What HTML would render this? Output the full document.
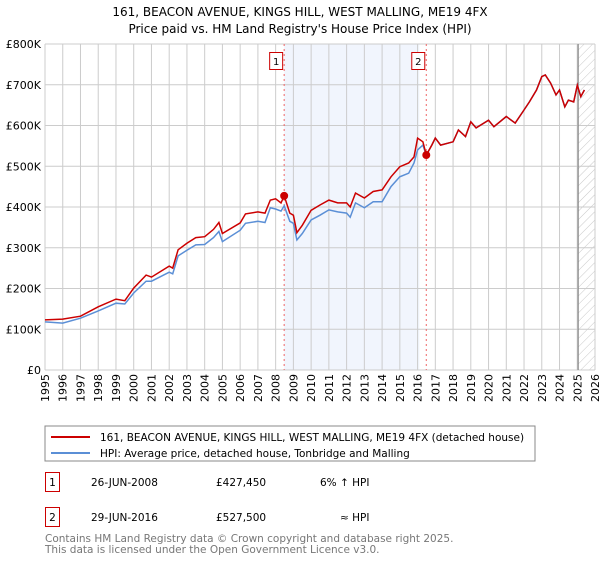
<!DOCTYPE html>
<html><head><meta charset="utf-8"><style>
body{margin:0;background:#fff;font-family:"Liberation Sans","DejaVu Sans",sans-serif;}
svg text{font-family:"DejaVu Sans","Liberation Sans",sans-serif;}
</style></head><body>
<svg id="c" width="600" height="560" xmlns="http://www.w3.org/2000/svg">
<defs><pattern id="hatch" width="6" height="6" patternUnits="userSpaceOnUse" patternTransform="rotate(45)"><line x1="0" y1="0" x2="0" y2="6" stroke="#bbb" stroke-width="0.8"/></pattern></defs>
<text x="300" y="16" text-anchor="middle" font-size="12">161, BEACON AVENUE, KINGS HILL, WEST MALLING, ME19 4FX</text>
<text x="300" y="33" text-anchor="middle" font-size="12">Price paid vs. HM Land Registry's House Price Index (HPI)</text>
<g id="plot"></g>
<rect x="45" y="426" width="490" height="35" fill="#fff" stroke="#888"/>
<line x1="51" y1="437" x2="90" y2="437" stroke="#cc0000" stroke-width="2"/>
<text x="100" y="441" font-size="10.5">161, BEACON AVENUE, KINGS HILL, WEST MALLING, ME19 4FX (detached house)</text>
<line x1="51" y1="453" x2="90" y2="453" stroke="#5b8fd6" stroke-width="2"/>
<text x="100" y="457" font-size="10.5">HPI: Average price, detached house, Tonbridge and Malling</text>
<g font-size="10.5">
<rect x="45.5" y="472.5" width="14" height="19" fill="#fff" stroke="#cc0000"/><text x="52.5" y="486" text-anchor="middle">1</text>
<text x="91" y="486">26-JUN-2008</text><text x="216" y="486">£427,450</text><text x="320" y="486">6% ↑ HPI</text></g>
<g font-size="10.5">
<rect x="45.5" y="507.5" width="14" height="19" fill="#fff" stroke="#cc0000"/><text x="52.5" y="521" text-anchor="middle">2</text>
<text x="91" y="521">29-JUN-2016</text><text x="216" y="521">£527,500</text><text x="340" y="521">≈ HPI</text></g>
<text x="45" y="542" font-size="10.5" fill="#777">Contains HM Land Registry data © Crown copyright and database right 2025.</text>
<text x="45" y="553" font-size="10.5" fill="#777">This data is licensed under the Open Government Licence v3.0.</text>
</svg>
<script>
const hpiYears=[1995,1996,1997,1998,1999,1999.5,2000,2000.7,2001,2002,2002.2,2002.5,2003,2003.5,2004,2004.5,2004.8,2005,2006,2006.3,2007,2007.4,2007.7,2008,2008.3,2008.48,2008.8,2009,2009.2,2009.5,2010,2010.5,2011,2011.5,2012,2012.2,2012.5,2013,2013.5,2014,2014.5,2015,2015.5,2015.8,2016,2016.3,2016.49,2016.8,2017,2017.3,2018,2018.3,2018.7,2019,2019.3,2020,2020.3,2021,2021.5,2022,2022.3,2022.7,2023,2023.2,2023.5,2023.8,2024,2024.3,2024.5,2024.8,2025,2025.2,2025.4];
const hpiValues=[118,115,127,145,164,162,189,218,218,240,236,280,294,307,308,325,340,315,343,360,365,362,398,395,390,403,365,360,319,335,368,380,393,388,385,375,410,398,413,413,450,474,483,508,540,552,527,552,569,552,560,589,573,609,594,613,597,622,606,638,658,687,720,724,704,675,687,646,662,658,699,671,687];
const redYears=[1995,1996,1997,1998,1999,1999.5,2000,2000.7,2001,2002,2002.2,2002.5,2003,2003.5,2004,2004.5,2004.8,2005,2006,2006.3,2007,2007.4,2007.7,2008,2008.3,2008.48,2008.8,2009,2009.2,2009.5,2010,2010.5,2011,2011.5,2012,2012.2,2012.5,2013,2013.5,2014,2014.5,2015,2015.5,2015.8,2016,2016.3,2016.49,2016.8,2017,2017.3,2018,2018.3,2018.7,2019,2019.3,2020,2020.3,2021,2021.5,2022,2022.3,2022.7,2023,2023.2,2023.5,2023.8,2024,2024.3,2024.5,2024.8,2025,2025.2,2025.4];
const redValues=[123,125,132,155,174,170,201,233,228,255,250,295,311,325,327,345,362,335,361,383,388,385,417,420,410,427.45,385,380,337,355,392,405,417,410,410,400,434,422,438,442,474,499,508,523,569,560,527.5,552,569,552,560,589,573,609,594,613,597,622,606,638,658,687,720,724,704,675,687,646,662,658,699,671,687];
const sales=[[2008.48,427.45,"1"],[2016.49,527.5,"2"]];
const yTicks=[0,100,200,300,400,500,600,700,800];
const yTickLabels=["£0","£100K","£200K","£300K","£400K","£500K","£600K","£700K","£800K"];
const NS="http://www.w3.org/2000/svg";
const L=45,R=595,T=44,B=370,x0=1995,x1=2026,ymax=800;
const X=v=>L+(v-x0)/(x1-x0)*(R-L), Y=v=>B-v/ymax*(B-T);
const g=document.getElementById('plot');
function mk(t,a,p){const e=document.createElementNS(NS,t);for(const k in a)e.setAttribute(k,a[k]);(p||g).appendChild(e);return e;}
let e;
e=mk('rect',{x:X(sales[0][0]),y:T,width:X(2016.1)-X(sales[0][0]),height:B-T,fill:'#eef2fc',opacity:0.8});


e=mk('rect',{x:X(2025.05),y:T,width:R-X(2025.05),height:B-T,fill:'url(#hatch)'});


for(let yr=x0;yr<=x1;yr++){
 e=mk('line',{x1:X(yr),x2:X(yr),y1:T,y2:B,stroke:'#ccc','stroke-width':1});
 
 
 e=mk('text',{transform:`translate(${X(yr)+4},402) rotate(-90)`,'font-size':11});
 e.textContent=yr;
 
 
}
yTicks.forEach((v,i)=>{
 e=mk('line',{x1:L,x2:R,y1:Y(v),y2:Y(v),stroke:'#ccc','stroke-width':1});
 
 
 e=mk('text',{x:L-4,y:Y(v)+4,'text-anchor':'end','font-size':11});
 e.textContent=yTickLabels[i];
 
 
});
e=mk('line',{x1:X(2025.05),x2:X(2025.05),y1:T,y2:B,stroke:'#888','stroke-width':1.2});


sales.forEach(s=>{
 e=mk('line',{x1:X(s[0]),x2:X(s[0]),y1:T,y2:B,stroke:'#e66','stroke-width':1,'stroke-dasharray':'2,3'});
 
 
 e=mk('rect',{x:X(s[0])-14.5,y:52.5,width:13,height:17,fill:'#fff',stroke:'#cc0000'});
 
 
 e=mk('text',{x:X(s[0])-8,y:65,'text-anchor':'middle','font-size':10});
 e.textContent=s[2];
 
 
});
function pts(xs,ys){return xs.map((v,i)=>X(v).toFixed(1)+','+Y(ys[i]).toFixed(1)).join(' ');}
e=mk('polyline',{points:pts(hpiYears,hpiValues),fill:'none',stroke:'#5b8fd6','stroke-width':1.5});


e=mk('polyline',{points:pts(redYears,redValues),fill:'none',stroke:'#cc0000','stroke-width':1.5});


sales.forEach(s=>{
 e=mk('circle',{cx:X(s[0]),cy:Y(s[1]),r:4,fill:'#cc0000'});
 
 
});
</script>
</body></html>
